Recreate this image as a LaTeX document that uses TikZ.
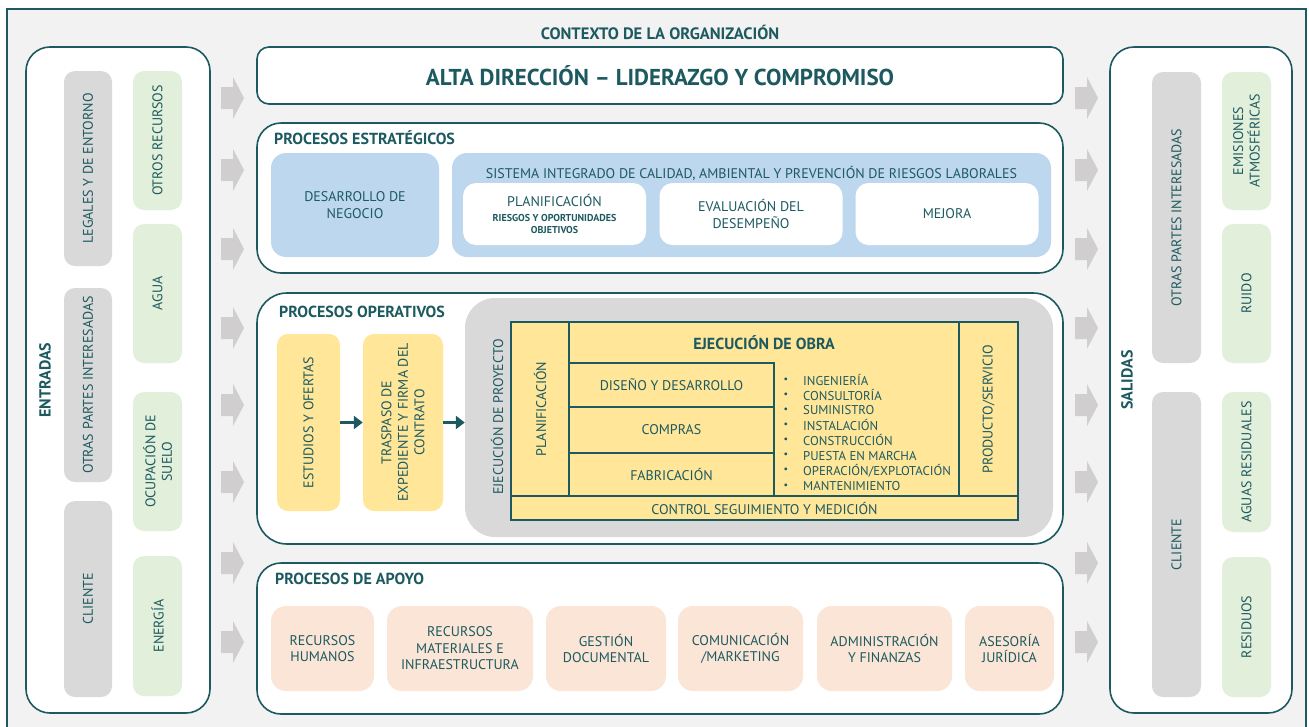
\documentclass[tikz,border=0pt]{standalone}
\usepackage{fontspec}
\setmainfont{PT Sans}
\usetikzlibrary{positioning,arrows.meta}
\definecolor{sgteal}{HTML}{1D5A60}
\definecolor{framebg}{HTML}{F2F2F2}
\definecolor{tilegray}{HTML}{D9D9D9}
\definecolor{tilegreen}{HTML}{E2EFDA}
\definecolor{tileblue}{HTML}{BDD7EE}
\definecolor{tileyellow}{HTML}{FFE699}
\definecolor{tilepeach}{HTML}{FBE5D6}
\definecolor{arrowgray}{HTML}{D0CECE}
\tikzset{
  txt/.style={text=sgteal, align=center, inner sep=0pt, font=\fontsize{14}{16.5}\selectfont},
  hdr/.style={text=sgteal, align=center, inner sep=0pt, font=\bfseries\fontsize{16}{18}\selectfont},
  panel/.style={draw=sgteal, line width=1.6pt, fill=white, rounded corners=24pt, inner sep=0pt},
  tile/.style={txt, rounded corners=11pt},
  graytile/.style={tile, fill=tilegray},
  greentile/.style={tile, fill=tilegreen},
  bluetile/.style={tile, fill=tileblue, rounded corners=15pt},
  whitetile/.style={tile, fill=white, rounded corners=13pt},
  yellowtile/.style={tile, fill=tileyellow},
  peachtile/.style={tile, fill=tilepeach, rounded corners=15pt},
  tabcell/.style={txt, draw=sgteal, line width=1.2pt, fill=tileyellow},
  blockarrow/.style={fill=arrowgray},
  flow/.style={draw=sgteal, line width=3.5pt, -{Triangle[length=9pt,width=13pt]}}
}
\begin{document}
\begin{tikzpicture}[x=1pt, y=-1pt]
    \useasboundingbox (0,0) rectangle (1309,726);
    \clip (0,0) rectangle (1309,726);
    \fill[white] (0,0) rectangle (1309,726);
    \draw[sgteal, line width=2.5pt, fill=framebg] (7,9) rectangle (1306,745);
    \node[hdr, font=\bfseries\fontsize{16.5}{18}\selectfont] (contexto) at (660,32) {CONTEXTO DE LA ORGANIZACIÓN};

    % entradas
    \node[panel, minimum width=184pt, minimum height=666pt] (entradas) at (118,380) {};
    \node[hdr, rotate=90] (entradas-t) at (45,380) {ENTRADAS};
    \node[graytile, rotate=90, minimum width=195pt, minimum height=48pt] (in-legales) at (88,168.5) {LEGALES Y DE ENTORNO};
    \node[graytile, rotate=90, minimum width=194pt, minimum height=48pt] (in-partes) at (88,385) {OTRAS PARTES INTERESADAS};
    \node[graytile, rotate=90, minimum width=196pt, minimum height=48pt] (in-cliente) at (88,599) {CLIENTE};
    \foreach \yc/\hh/\lab [count=\i] in {140.5/139/{OTROS RECURSOS}, 293.5/139/{AGUA}, 461.5/139/{OCUPACIÓN DE\\SUELO}, 626/140/{ENERGÍA}} {
        \node[greentile, rotate=90, minimum width=\hh pt, minimum height=49pt] (in-rec-\i) at (157.5,\yc) {\lab};
    }

    % salidas
    \node[panel, minimum width=182pt, minimum height=666pt] (salidas) at (1201,380) {};
    \node[hdr, rotate=90] (salidas-t) at (1127,380) {SALIDAS};
    \node[graytile, rotate=90, minimum width=291pt, minimum height=49pt] (out-partes) at (1176.5,217.5) {OTRAS PARTES INTERESADAS};
    \node[graytile, rotate=90, minimum width=305pt, minimum height=49pt] (out-cliente) at (1176.5,544.5) {CLIENTE};
    \foreach \yc/\hh/\lab [count=\i] in {141/138/{EMISIONES\\ATMOSFÉRICAS}, 293.5/139/{RUIDO}, 462/140/{AGUAS RESIDUALES}, 627/140/{RESIDUOS}} {
        \node[greentile, rotate=90, minimum width=\hh pt, minimum height=49pt] (out-res-\i) at (1246.5,\yc) {\lab};
    }

    \foreach \yc in {98,170,249,328,405,482,563,642} {
        \foreach \xa in {221,1075} {
            \fill[blockarrow] (\xa,{\yc-11}) -- ({\xa+12},{\yc-11}) -- ({\xa+12},{\yc-21}) -- ({\xa+23},\yc)
                -- ({\xa+12},{\yc+21}) -- ({\xa+12},{\yc+11}) -- (\xa,{\yc+11}) -- cycle;
        }
    }

    % alta direccion
    \node[panel, rounded corners=12pt, minimum width=806pt, minimum height=57pt, text=sgteal,
        font=\bfseries\fontsize{23}{25}\selectfont] (alta) at (660,75.5) {ALTA DIRECCIÓN -- LIDERAZGO Y COMPROMISO};

    % estrategicos
    \node[panel, minimum width=806pt, minimum height=150pt] (estr) at (660,198) {};
    \node[hdr, anchor=west] (estr-t) at (274,138) {PROCESOS ESTRATÉGICOS};
    \node[bluetile, minimum width=168pt, minimum height=104pt] (negocio) at (355,205) {DESARROLLO DE\\NEGOCIO};
    \node[bluetile, minimum width=599pt, minimum height=104pt] (sig) at (751.5,205) {};
    \node[txt] (sig-t) at (751.5,173) {SISTEMA INTEGRADO DE CALIDAD, AMBIENTAL Y PREVENCIÓN DE RIESGOS LABORALES};
    \node[whitetile, minimum width=183pt, minimum height=62pt, font=\bfseries\fontsize{10}{12}\selectfont] (sig-1) at (554.5,214)
        {{\mdseries\fontsize{14}{16}\selectfont PLANIFICACIÓN}\\[3pt]RIESGOS Y OPORTUNIDADES\\OBJETIVOS};
    \node[whitetile, minimum width=183pt, minimum height=62pt] (sig-2) at (751,214) {EVALUACIÓN DEL\\DESEMPEÑO};
    \node[whitetile, minimum width=183pt, minimum height=62pt] (sig-3) at (947,214) {MEJORA};

    % operativos
    \node[panel, rounded corners=30pt, minimum width=806pt, minimum height=251pt] (oper) at (660,418.5) {};
    \node[hdr, anchor=west] (oper-t) at (279,312) {PROCESOS OPERATIVOS};
    \node[yellowtile, rotate=90, minimum width=177pt, minimum height=63pt] (estudios) at (308.5,422.5) {ESTUDIOS Y OFERTAS};
    \node[yellowtile, rotate=90, minimum width=177pt, minimum height=80pt] (traspaso) at (403,422.5) {TRASPASO DE\\EXPEDIENTE Y FIRMA DEL\\CONTRATO};
    \node[fill=tilegray, rounded corners=30pt, inner sep=0pt, minimum width=588pt, minimum height=239pt] (ejproy) at (759,417.5) {};
    \node[txt, rotate=90] (ejproy-t) at (497,417) {EJECUCIÓN DE PROYECTO};
    \draw[flow] (estudios.south) -- (traspaso.north);
    \draw[flow] (traspaso.south) -- (traspaso.south -| ejproy.west);

    \node[tabcell, minimum width=390pt, minimum height=174pt] (obra) at (764,409) {};
    \node[hdr] (obra-t) at (764,343) {EJECUCIÓN DE OBRA};
    \node[tabcell, rotate=90, minimum width=174pt, minimum height=58pt] (plan) at (540,409) {PLANIFICACIÓN};
    \node[tabcell, rotate=90, minimum width=174pt, minimum height=59pt] (producto) at (988.5,409) {PRODUCTO/SERVICIO};
    \node[tabcell, minimum width=205pt, minimum height=44pt] (diseno) at (671.5,385) {DISEÑO Y DESARROLLO};
    \node[tabcell, minimum width=205pt, minimum height=46pt] (compras) at (671.5,430) {COMPRAS};
    \node[tabcell, minimum width=205pt, minimum height=43pt] (fabric) at (671.5,474.5) {FABRICACIÓN};
    \node[tabcell, minimum width=507pt, minimum height=24pt] (control) at (764.5,508) {CONTROL SEGUIMIENTO Y MEDICIÓN};
    \foreach \act [count=\i] in {INGENIERÍA, CONSULTORÍA, SUMINISTRO, INSTALACIÓN, CONSTRUCCIÓN, PUESTA EN MARCHA, OPERACIÓN/EXPLOTACIÓN, MANTENIMIENTO} {
        \node[txt, font=\fontsize{10}{12}\selectfont] (dot-\i) at (786,{365+15.1*\i}) {\textbullet};
        \node[txt, anchor=west, font=\fontsize{12.8}{14}\selectfont] (act-\i) at (803,{365+15.1*\i}) {\act};
    }

    % apoyo
    \node[panel, minimum width=806pt, minimum height=151pt] (apoyo) at (660,638.5) {};
    \node[hdr, anchor=west] (apoyo-t) at (275,579) {PROCESOS DE APOYO};
    \foreach \xc/\ww/\lab [count=\i] in {322.5/103/{RECURSOS\\HUMANOS}, 460/146/{RECURSOS\\MATERIALES E\\INFRAESTRUCTURA},
        606/120/{GESTIÓN\\DOCUMENTAL}, 740.5/125/{COMUNICACIÓN\\/MARKETING}, 884.5/135/{ADMINISTRACIÓN\\Y FINANZAS}, 1009.5/89/{ASESORÍA\\JURÍDICA}} {
        \node[peachtile, minimum width=\ww pt, minimum height=85pt] (apoyo-\i) at (\xc,648.5) {\lab};
    }
\end{tikzpicture}
\end{document}
